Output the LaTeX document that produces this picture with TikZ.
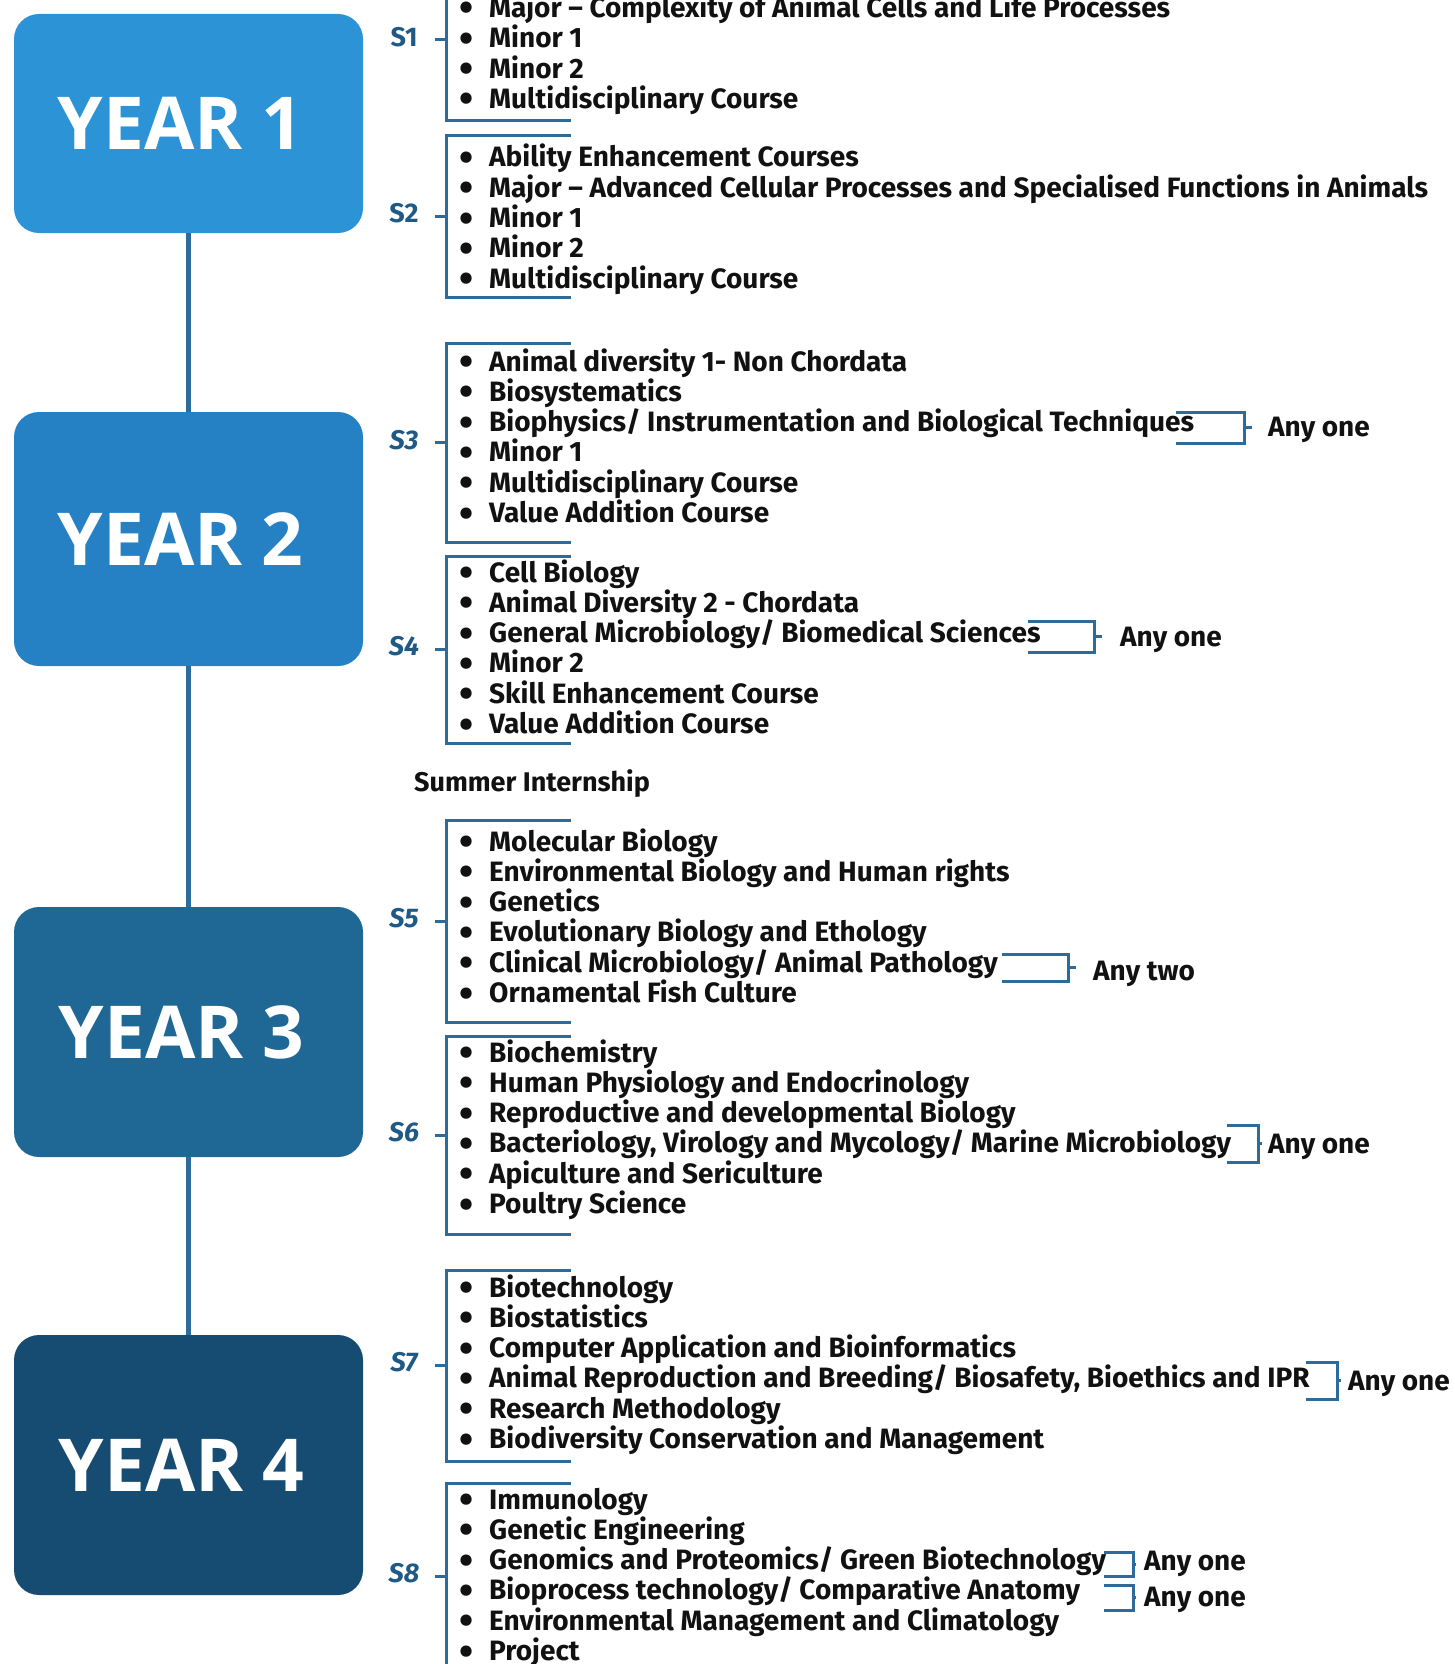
\documentclass[tikz,border=0pt]{standalone}
\usepackage{fontspec}
\setmainfont{Fira Sans}
\newfontfamily\yearfont{Open Sans}
\usetikzlibrary{positioning}

\definecolor{yearA}{HTML}{2B93D6}
\definecolor{yearB}{HTML}{2581C4}
\definecolor{yearC}{HTML}{1F6795}
\definecolor{yearD}{HTML}{174C72}
\definecolor{lineblue}{HTML}{2D6B9B}
\definecolor{semblue}{HTML}{1F5A87}
\definecolor{ink}{HTML}{111111}

\tikzset{
  yearbox/.style={rounded corners=25pt, minimum width=349pt, inner sep=0pt},
  yeartext/.style={inner sep=0pt, text=white, font=\yearfont\bfseries\fontsize{73}{78}\selectfont},
  spine/.style={draw=lineblue, line width=5pt},
  brk/.style={draw=lineblue, line width=3pt},
  semlabel/.style={inner sep=0pt, text=semblue, font=\bfseries\fontsize{27}{29}\selectfont},
  item/.style={anchor=north west, inner sep=0pt, text height=21pt, text depth=8.9pt, text=ink,
    font=\bfseries\fontsize{28}{30}\selectfont},
  choice/.style={anchor=base west, inner sep=0pt, text=ink, font=\bfseries\fontsize{28}{30}\selectfont},
}
\newcommand{\bul}{\llap{\raisebox{-4.5pt}{\scalebox{1.45}{\textbullet}}\hspace{16pt}}}

\begin{document}
\begin{tikzpicture}[x=1pt,y=-1pt]
    \useasboundingbox (0,0) rectangle (1455,1664);
    \clip (0,0) rectangle (1455,1664);

    % year boxes
    \node [yearbox, fill=yearA, minimum height=219pt] (y1) at (188.5,123.5) {};
    \node [yearbox, fill=yearB, minimum height=254pt] (y2) at (188.5,539)   {};
    \node [yearbox, fill=yearC, minimum height=250pt] (y3) at (188.5,1032)  {};
    \node [yearbox, fill=yearD, minimum height=260pt] (y4) at (188.5,1465)  {};
    \node [yeartext] (t1) at ([xshift=-8pt]y1.center) {YEAR 1};
    \node [yeartext] (t2) at ([xshift=-8pt]y2.center) {YEAR 2};
    \node [yeartext] (t3) at ([xshift=-7pt]y3.center) {YEAR 3};
    \node [yeartext] (t4) at ([xshift=-7pt]y4.center) {YEAR 4};

    \draw [spine] (y1) -- (y2);
    \draw [spine] (y2) -- (y3);
    \draw [spine] (y3) -- (y4);

    % semester labels
    \node [semlabel] (s1) at (404,37)   {S1};
    \node [semlabel] (s2) at (404,213)  {S2};
    \node [semlabel] (s3) at (404,440)  {\itshape S3};
    \node [semlabel] (s4) at (404,646)  {\itshape S4};
    \node [semlabel] (s5) at (404,918)  {\itshape S5};
    \node [semlabel] (s6) at (404,1132) {\itshape S6};
    \node [semlabel] (s7) at (404,1362) {\itshape S7};
    \node [semlabel] (s8) at (404,1573) {\itshape S8};

    % semester brackets
    \draw [brk] (571,-41)  -- (446,-41)  -- (446,121)  -- (571,121)  (435,40)     -- (446,40);
    \draw [brk] (571,136)  -- (446,136)  -- (446,297)  -- (571,297)  (435,216.5)  -- (446,216.5);
    \draw [brk] (571,343)  -- (446,343)  -- (446,542)  -- (571,542)  (435,442.5)  -- (446,442.5);
    \draw [brk] (571,556)  -- (446,556)  -- (446,743)  -- (571,743)  (435,649.5)  -- (446,649.5);
    \draw [brk] (571,820)  -- (446,820)  -- (446,1022) -- (571,1022) (435,921)    -- (446,921);
    \draw [brk] (571,1036) -- (446,1036) -- (446,1234) -- (571,1234) (435,1135)   -- (446,1135);
    \draw [brk] (571,1270) -- (446,1270) -- (446,1461) -- (571,1461) (435,1365.5) -- (446,1365.5);
    \draw [brk] (571,1483) -- (446,1483) -- (446,1669) -- (571,1669) (435,1576)   -- (446,1576);

    % S1
    \node [item, anchor=base west] (s1a) at (489,17.5) {\bul Major – Complexity of Animal Cells and Life Processes};
    \node [item] (s1b) at (s1a.south west) {\bul Minor 1};
    \node [item] (s1c) at (s1b.south west) {\bul Minor 2};
    \node [item] (s1d) at (s1c.south west) {\bul Multidisciplinary Course};

    % S2
    \node [item, anchor=base west] (s2a) at (489,167) {\bul Ability Enhancement Courses};
    \node [item] (s2b) at (s2a.south west) {\bul Major – Advanced Cellular Processes and Specialised Functions in Animals};
    \node [item] (s2c) at (s2b.south west) {\bul Minor 1};
    \node [item] (s2d) at (s2c.south west) {\bul Minor 2};
    \node [item] (s2e) at (s2d.south west) {\bul Multidisciplinary Course};

    % S3
    \node [item, anchor=base west] (s3a) at (489,371) {\bul Animal diversity 1- Non Chordata};
    \node [item] (s3b) at (s3a.south west) {\bul Biosystematics};
    \node [item] (s3c) at (s3b.south west) {\bul Biophysics/ Instrumentation and Biological Techniques};
    \node [item] (s3d) at (s3c.south west) {\bul Minor 1};
    \node [item] (s3e) at (s3d.south west) {\bul Multidisciplinary Course};
    \node [item] (s3f) at (s3e.south west) {\bul Value Addition Course};

    % S4
    \node [item, anchor=base west] (s4a) at (489,582) {\bul Cell Biology};
    \node [item] (s4b) at (s4a.south west) {\bul Animal Diversity 2 - Chordata};
    \node [item] (s4c) at (s4b.south west) {\bul General Microbiology/ Biomedical Sciences};
    \node [item] (s4d) at (s4c.south west) {\bul Minor 2};
    \node [item] (s4e) at (s4d.south west) {\bul Skill Enhancement Course};
    \node [item] (s4f) at (s4e.south west) {\bul Value Addition Course};

    \node [choice, font=\bfseries\fontsize{27}{30}\selectfont] (intern) at (414,791) {Summer Internship};

    % S5
    \node [item, anchor=base west] (s5a) at (489,851) {\bul Molecular Biology};
    \node [item] (s5b) at (s5a.south west) {\bul Environmental Biology and Human rights};
    \node [item] (s5c) at (s5b.south west) {\bul Genetics};
    \node [item] (s5d) at (s5c.south west) {\bul Evolutionary Biology and Ethology};
    \node [item] (s5e) at (s5d.south west) {\bul Clinical Microbiology/ Animal Pathology};
    \node [item] (s5f) at (s5e.south west) {\bul Ornamental Fish Culture};

    % S6
    \node [item, anchor=base west] (s6a) at (489,1062) {\bul Biochemistry};
    \node [item] (s6b) at (s6a.south west) {\bul Human Physiology and Endocrinology};
    \node [item] (s6c) at (s6b.south west) {\bul Reproductive and developmental Biology};
    \node [item] (s6d) at (s6c.south west) {\bul Bacteriology, Virology and Mycology/ Marine Microbiology};
    \node [item] (s6e) at (s6d.south west) {\bul Apiculture and Sericulture};
    \node [item] (s6f) at (s6e.south west) {\bul Poultry Science};

    % S7
    \node [item, anchor=base west] (s7a) at (489,1297) {\bul Biotechnology};
    \node [item] (s7b) at (s7a.south west) {\bul Biostatistics};
    \node [item] (s7c) at (s7b.south west) {\bul Computer Application and Bioinformatics};
    \node [item] (s7d) at (s7c.south west) {\bul Animal Reproduction and Breeding/ Biosafety, Bioethics and IPR};
    \node [item] (s7e) at (s7d.south west) {\bul Research Methodology};
    \node [item] (s7f) at (s7e.south west) {\bul Biodiversity Conservation and Management};

    % S8
    \node [item, anchor=base west] (s8a) at (489,1509) {\bul Immunology};
    \node [item] (s8b) at (s8a.south west) {\bul Genetic Engineering};
    \node [item] (s8c) at (s8b.south west) {\bul Genomics and Proteomics/ Green Biotechnology};
    \node [item] (s8d) at (s8c.south west) {\bul Bioprocess technology/ Comparative Anatomy};
    \node [item] (s8e) at (s8d.south west) {\bul Environmental Management and Climatology};
    \node [item] (s8f) at (s8e.south west) {\bul Project};

    % elective brackets
    \node [choice] (c3)  at (1268,436)  {Any one};
    \node [choice] (c4)  at (1120,646)  {Any one};
    \node [choice] (c5)  at (1093,980)  {Any two};
    \node [choice] (c6)  at (1268,1153) {Any one};
    \node [choice] (c7)  at (1348,1390) {Any one};
    \node [choice] (c8a) at (1144,1570) {Any one};
    \node [choice] (c8b) at (1144,1606) {Any one};

    \draw [brk] (1176,412)  -- (1244,412)  -- (1244,443)  -- (1176,443)  (1244,427.5)  -- (1252,427.5);
    \draw [brk] (1028,621)  -- (1094,621)  -- (1094,652)  -- (1028,652)  (1094,636.5)  -- (1102,636.5);
    \draw [brk] (1002,954)  -- (1068,954)  -- (1068,981)  -- (1002,981)  (1068,967.5)  -- (1076,967.5);
    \draw [brk] (1227,1125) -- (1258,1125) -- (1258,1162) -- (1227,1162) (1258,1143.5) -- (1262,1143.5);
    \draw [brk] (1306,1362) -- (1337,1362) -- (1337,1399) -- (1306,1399) (1337,1380.5) -- (1341,1380.5);
    \draw [brk] (1104,1552) -- (1133,1552) -- (1133,1576) -- (1104,1576) (1133,1564)   -- (1136,1564);
    \draw [brk] (1104,1585) -- (1133,1585) -- (1133,1610) -- (1104,1610) (1133,1597.5) -- (1136,1597.5);
\end{tikzpicture}
\end{document}
